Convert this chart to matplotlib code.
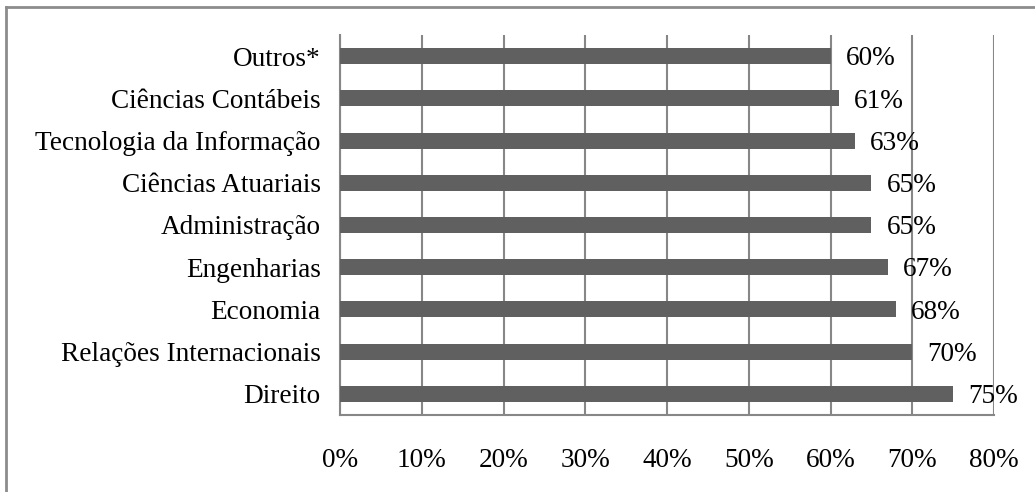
import matplotlib
matplotlib.use("Agg")
import matplotlib.pyplot as plt
from matplotlib.lines import Line2D
from matplotlib.ticker import FuncFormatter, MultipleLocator

categories = ["Outros*", "Ciências Contábeis", "Tecnologia da Informação",
              "Ciências Atuariais", "Administração", "Engenharias",
              "Economia", "Relações Internacionais", "Direito"]
values = [60, 61, 63, 65, 65, 67, 68, 70, 75]

plt.rcParams['font.family'] = ['Liberation Serif', 'DejaVu Serif']

fig = plt.figure(figsize=(10.35, 4.92), dpi=100)
ax = fig.add_axes([340/1035, 1-415/492, (994-340)/1035, (415-35)/492])

pos = list(range(len(categories)))
ax.barh(pos, values, height=0.38, color='#606060', zorder=3)
ax.set_ylim(len(categories)-0.5, -0.5)
ax.set_xlim(0, 80)
ax.xaxis.set_major_locator(MultipleLocator(10))
ax.xaxis.set_major_formatter(FuncFormatter(lambda v, p: f"{int(v)}%"))
ax.set_yticks(pos)
ax.set_yticklabels(categories)
ax.tick_params(axis='both', length=0, labelsize=19.6, colors='black')
ax.tick_params(axis='x', pad=24)
ax.tick_params(axis='y', pad=14)
ax.grid(axis='x', color='#878787', linewidth=1.5, zorder=1)
for s in ['top', 'right']:
    ax.spines[s].set_visible(False)
for s in ['left', 'bottom']:
    ax.spines[s].set_color('#878787')
    ax.spines[s].set_linewidth(1.5)

for p, v in zip(pos, values):
    ax.annotate(f"{v}%", (v, p), xytext=(11, -2), textcoords='offset points',
                va='center', ha='left', fontsize=19.6, zorder=4)

fig.add_artist(Line2D([6/1035, 6/1035], [0, 1-7/492], transform=fig.transFigure,
                      color='#8c8c8c', linewidth=2))
fig.add_artist(Line2D([6/1035, 1], [1-7/492, 1-7/492], transform=fig.transFigure,
                      color='#8c8c8c', linewidth=2))

fig.savefig("out.png", dpi=100)
